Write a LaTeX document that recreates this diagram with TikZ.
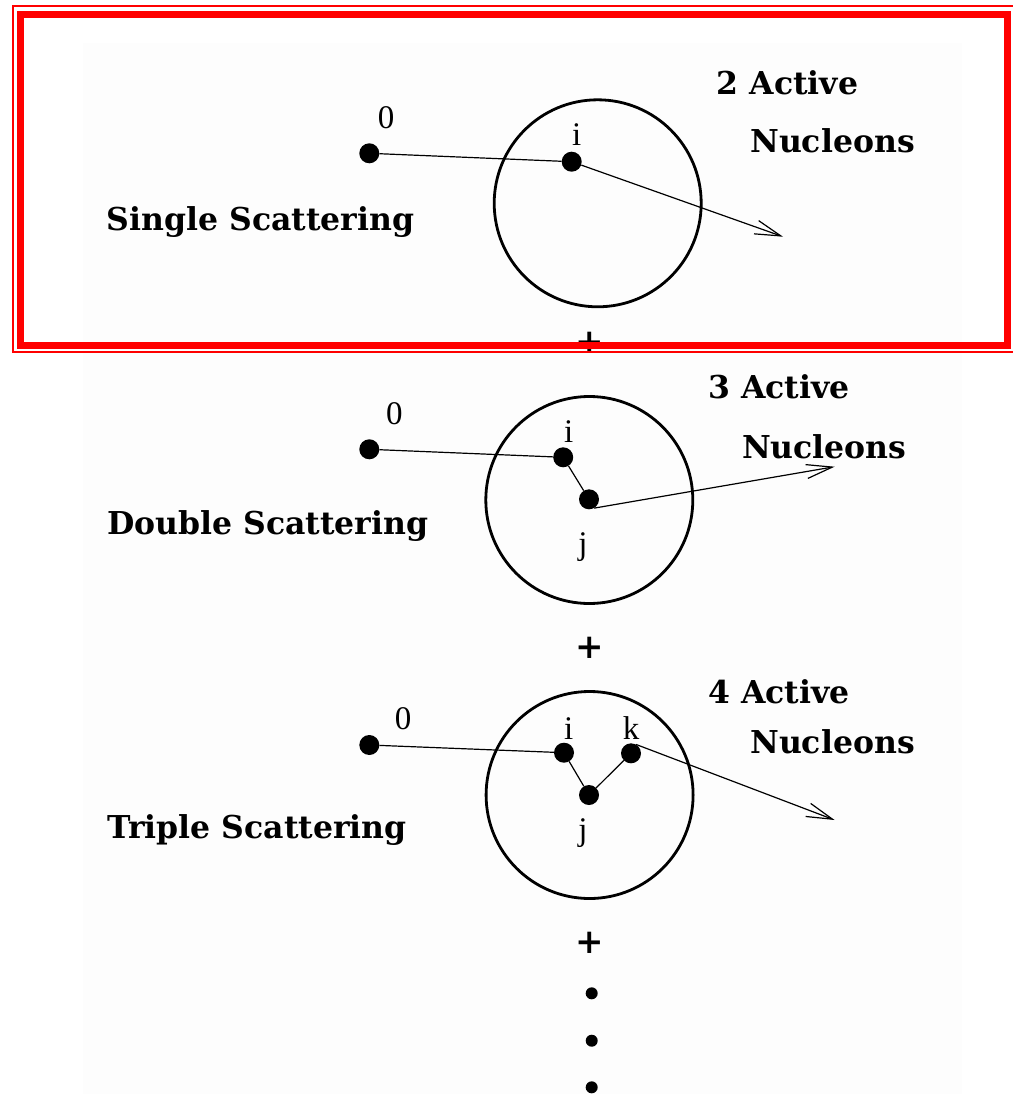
\documentclass[tikz,border=0pt]{standalone}
\usepackage{fontspec}
\setmainfont{Liberation Serif}
\newfontfamily\hdfont{DejaVu Serif}
\usetikzlibrary{arrows.meta}
\begin{document}
\begin{tikzpicture}[x=1pt,y=-1pt,
  nucdot/.style={circle,fill=black,inner sep=0pt,minimum size=20pt},
  smalldot/.style={circle,fill=black,inner sep=0pt,minimum size=12pt},
  nucleus/.style={circle,draw=black,line width=2.8pt,minimum size=207pt,inner sep=0pt},
  lbl/.style={font=\fontsize{33}{36}\selectfont,inner sep=0pt},
  headtxt/.style={font=\hdfont\bfseries\fontsize{31.5}{34}\selectfont,inner sep=0pt,anchor=base west},
  plussign/.style={font=\hdfont\bfseries\fontsize{34}{36}\selectfont,inner sep=0pt},
  link/.style={line width=1.2pt},
  outray/.style={line width=1.2pt,-{Straight Barb[length=26pt,width=14pt,line width=1.2pt]}},
  frame/.style={draw=red}
]
\useasboundingbox (0,0) rectangle (1012,1094);
\fill[white!99.4!black] (83,43) rectangle (962,1094);

% ---------- panel 1 ----------
\node[nucleus] (n1) at (597.7,203.3) {};
\node[nucdot] (o1) at (369.3,153.3) {};
\node[nucdot] (i1) at (571.7,161.7) {};
\coordinate (t1) at (783,236.7);
\draw[link] (o1) -- (i1);
\draw[outray] (i1) -- (t1);
\node[lbl] (l0a) at (386,118) {0};
\node[lbl] (lia) at (576.7,135) {i};
\node[headtxt] (h1a) at (716.6,95) {2 Active};
\node[headtxt] (h1b) at (750,153) {Nucleons};
\node[headtxt] (s1) at (106.5,230) {Single Scattering};
\node[plussign] (p1) at (590,343) {+};

% ---------- panel 2 ----------
\node[nucleus] (n2) at (589.3,500) {};
\node[nucdot] (o2) at (369.3,449.3) {};
\node[nucdot] (i2) at (563.2,457.3) {};
\node[nucdot] (j2) at (589,499.3) {};
\coordinate (t2) at (834.6,466.7);
\draw[link] (o2) -- (i2) -- (j2);
\draw[outray] (j2.-60) -- (t2);
\node[lbl] (l0b) at (394.3,413.3) {0};
\node[lbl] (lib) at (568.6,431.7) {i};
\node[lbl] (ljb) at (582.9,546.7) {j};
\node[headtxt] (h2a) at (708,398) {3 Active};
\node[headtxt] (h2b) at (741.8,458) {Nucleons};
\node[headtxt] (s2) at (107,534) {Double Scattering};
\node[plussign] (p2) at (590,648) {+};

% ---------- panel 3 ----------
\node[nucleus] (n3) at (589.6,795) {};
\node[nucdot] (o3) at (369.3,745) {};
\node[nucdot] (i3) at (564,752.7) {};
\node[nucdot] (j3) at (589,795) {};
\node[nucdot] (k3) at (631,753.3) {};
\coordinate (t3) at (834.6,820);
\draw[link] (o3) -- (i3) -- (j3) -- (k3);
\draw[outray] (k3.60) -- (t3);
\node[lbl] (l0c) at (403.2,718.3) {0};
\node[lbl] (lic) at (568.6,728.3) {i};
\node[lbl] (lkc) at (631,728.3) {k};
\node[lbl] (ljc) at (582.9,833.3) {j};
\node[headtxt] (h3a) at (708,703.3) {4 Active};
\node[headtxt] (h3b) at (750,753) {Nucleons};
\node[headtxt] (s3) at (107,838) {Triple Scattering};
\node[plussign] (p3) at (590,943.3) {+};

% ---------- ellipsis ----------
\node[smalldot] (e1) at (591.7,993.3) {};
\node[smalldot] (e2) at (591.7,1040.7) {};
\node[smalldot] (e3) at (591.7,1087.3) {};

% ---------- red highlight frame ----------
\draw[frame,line width=7pt] (20.3,14.2) rectangle (1007.5,345.6);
\draw[frame,line width=2.2pt] (12.9,6.4) rectangle (1020,352);
\end{tikzpicture}
\end{document}
